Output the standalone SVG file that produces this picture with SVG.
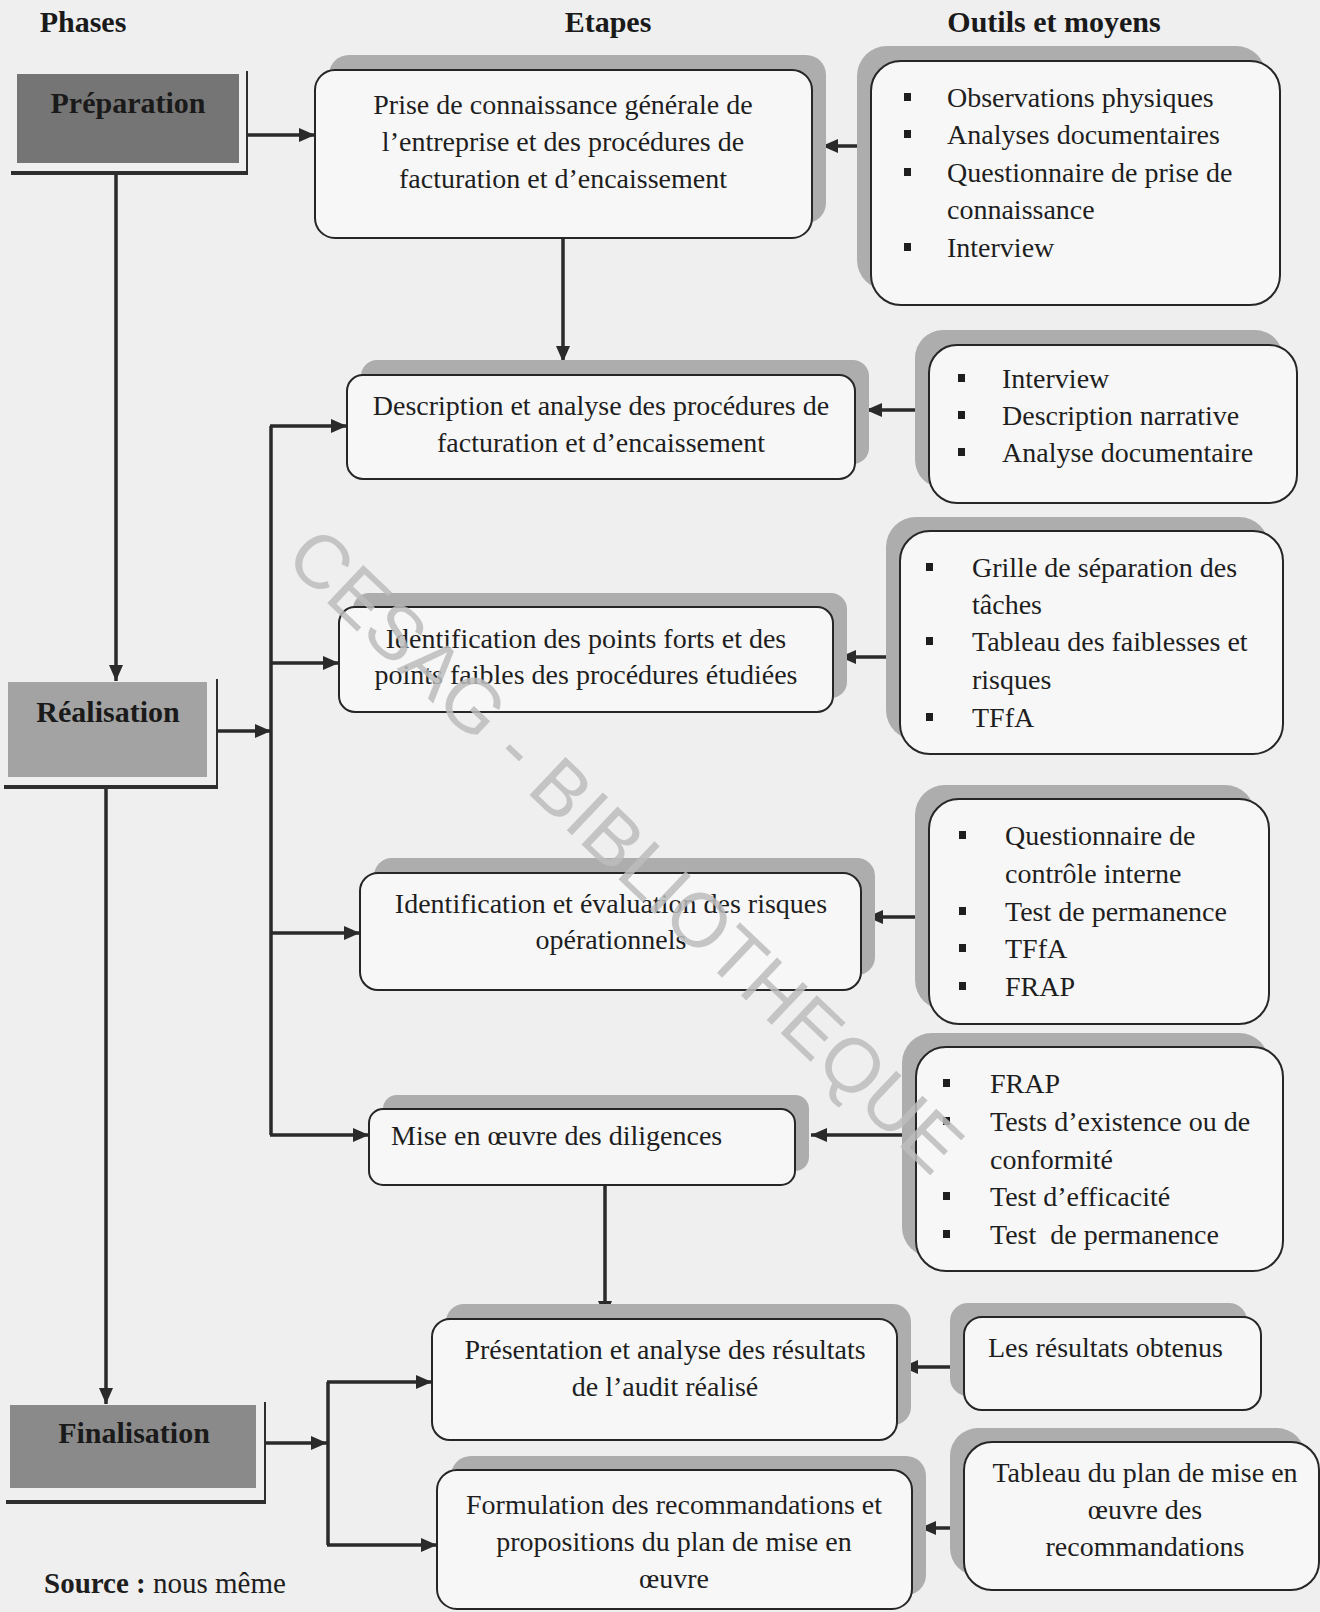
<svg xmlns="http://www.w3.org/2000/svg" width="1320" height="1612" viewBox="0 0 1320 1612">
<defs>
<style>
.t{font-family:"Liberation Serif","Times New Roman",serif;font-size:28px;fill:#1e1e1e}
.c{text-anchor:middle}
.h{font-family:"Liberation Serif","Times New Roman",serif;font-size:30px;font-weight:bold;fill:#1a1a1a;text-anchor:middle}
.box{fill:#f7f7f7;stroke:#262626;stroke-width:2}
.sh{fill:#adadad}
.conn{stroke:#2a2a2a;stroke-width:3.5;fill:none}
.frame{stroke:#2e2e2e;fill:none}
.bul{fill:#1e1e1e}
.wm{font-family:"Liberation Sans",Arial,sans-serif;font-size:76px;fill:#bcbcbc;fill-opacity:0.85;text-anchor:middle}
</style>
<marker id="ah" markerUnits="userSpaceOnUse" markerWidth="16" markerHeight="14" refX="16" refY="7" orient="auto">
<path d="M0,0 L16,7 L0,14 Z" fill="#2a2a2a"/>
</marker>
</defs>
<rect x="0" y="0" width="1320" height="1612" fill="#efefef"/>

<g id="headers">
<text class="h" x="83" y="32">Phases</text>
<text class="h" x="608" y="32">Etapes</text>
<text class="h" x="1054" y="32">Outils et moyens</text>
</g>

<g id="phase-preparation">
<rect x="17" y="74" width="222" height="89" fill="#757575"/>
<line class="frame" x1="247" y1="71" x2="247" y2="175" stroke-width="2"/>
<line class="frame" x1="11" y1="173" x2="248" y2="173" stroke-width="4"/>
<text class="h" x="128" y="113">Préparation</text>
</g>
<g id="phase-realisation">
<rect x="8" y="682" width="199" height="95" fill="#a3a3a3"/>
<line class="frame" x1="217" y1="679" x2="217" y2="789" stroke-width="2"/>
<line class="frame" x1="4" y1="787" x2="218" y2="787" stroke-width="4"/>
<text class="h" x="108" y="722">Réalisation</text>
</g>
<g id="phase-finalisation">
<rect x="10" y="1405" width="246" height="83" fill="#8a8a8a"/>
<line class="frame" x1="265" y1="1402" x2="265" y2="1504" stroke-width="2"/>
<line class="frame" x1="6" y1="1502" x2="266" y2="1502" stroke-width="4"/>
<text class="h" x="134" y="1443">Finalisation</text>
</g>

<g id="connectors">
<path class="conn" d="M247,135 H315" marker-end="url(#ah)"/>
<path class="conn" d="M116,175 V681" marker-end="url(#ah)"/>
<path class="conn" d="M106,789 V1404" marker-end="url(#ah)"/>
<path class="conn" d="M218,731 H271" marker-end="url(#ah)"/>
<path class="conn" d="M271,426 V1135"/>
<path class="conn" d="M270,426 H347" marker-end="url(#ah)"/>
<path class="conn" d="M270,663 H339" marker-end="url(#ah)"/>
<path class="conn" d="M270,933 H360" marker-end="url(#ah)"/>
<path class="conn" d="M270,1135 H369" marker-end="url(#ah)"/>
<path class="conn" d="M563,238 V362" marker-end="url(#ah)"/>
<path class="conn" d="M605,1185 V1317" marker-end="url(#ah)"/>
<path class="conn" d="M266,1443 H327" marker-end="url(#ah)"/>
<path class="conn" d="M328,1382 V1545"/>
<path class="conn" d="M327,1382 H432" marker-end="url(#ah)"/>
<path class="conn" d="M327,1545 H437" marker-end="url(#ah)"/>
<path class="conn" d="M862,146 H822" marker-end="url(#ah)"/>
<path class="conn" d="M918,410 H866" marker-end="url(#ah)"/>
<path class="conn" d="M888,657 H840" marker-end="url(#ah)"/>
<path class="conn" d="M918,917 H867" marker-end="url(#ah)"/>
<path class="conn" d="M905,1135 H811" marker-end="url(#ah)"/>
<path class="conn" d="M953,1367 H902" marker-end="url(#ah)"/>
<path class="conn" d="M953,1528 H920" marker-end="url(#ah)"/>
</g>

<g id="etape-1">
<rect class="sh" x="329" y="55" width="497" height="168" rx="20"/>
<rect class="box" x="315" y="70" width="497" height="168" rx="20"/>
<text class="t c" x="563" y="114">Prise de connaissance générale de</text>
<text class="t c" x="563" y="151">l’entreprise et des procédures de</text>
<text class="t c" x="563" y="188">facturation et d’encaissement</text>
</g>
<g id="etape-2">
<rect class="sh" x="361" y="360" width="508" height="104" rx="16"/>
<rect class="box" x="347" y="375" width="508" height="104" rx="16"/>
<text class="t c" x="601" y="415">Description et analyse des procédures de</text>
<text class="t c" x="601" y="452">facturation et d’encaissement</text>
</g>
<g id="etape-3">
<rect class="sh" x="353" y="593" width="494" height="105" rx="16"/>
<rect class="box" x="339" y="607" width="494" height="105" rx="16"/>
<text class="t c" x="586" y="648">Identification des points forts et des</text>
<text class="t c" x="586" y="684">points faibles des procédures étudiées</text>
</g>
<g id="etape-4">
<rect class="sh" x="374" y="858" width="501" height="117" rx="18"/>
<rect class="box" x="360" y="873" width="501" height="117" rx="18"/>
<text class="t c" x="611" y="913">Identification et évaluation des risques</text>
<text class="t c" x="611" y="949">opérationnels</text>
</g>
<g id="etape-5">
<rect class="sh" x="383" y="1095" width="426" height="76" rx="14"/>
<rect class="box" x="369" y="1109" width="426" height="76" rx="14"/>
<text class="t" x="391" y="1145">Mise en œuvre des diligences</text>
</g>
<g id="etape-6">
<rect class="sh" x="446" y="1304" width="465" height="121" rx="18"/>
<rect class="box" x="432" y="1319" width="465" height="121" rx="18"/>
<text class="t c" x="665" y="1359">Présentation et analyse des résultats</text>
<text class="t c" x="665" y="1396">de l’audit réalisé</text>
</g>
<g id="etape-7">
<rect class="sh" x="451" y="1456" width="475" height="139" rx="20"/>
<rect class="box" x="437" y="1470" width="475" height="139" rx="20"/>
<text class="t c" x="674" y="1514">Formulation des recommandations et</text>
<text class="t c" x="674" y="1551">propositions du plan de mise en</text>
<text class="t c" x="674" y="1588">œuvre</text>
</g>

<g id="outils-1">
<rect class="sh" x="857" y="46" width="409" height="244" rx="30"/>
<rect class="box" x="871" y="61" width="409" height="244" rx="30"/>
<rect class="bul" x="904" y="93" width="7" height="8"/>
<rect class="bul" x="904" y="130" width="7" height="8"/>
<rect class="bul" x="904" y="168" width="7" height="8"/>
<rect class="bul" x="904" y="243" width="7" height="8"/>
<text class="t" x="947" y="107">Observations physiques</text>
<text class="t" x="947" y="144">Analyses documentaires</text>
<text class="t" x="947" y="182">Questionnaire de prise de</text>
<text class="t" x="947" y="219">connaissance</text>
<text class="t" x="947" y="257">Interview</text>
</g>
<g id="outils-2">
<rect class="sh" x="915" y="330" width="368" height="158" rx="28"/>
<rect class="box" x="929" y="345" width="368" height="158" rx="28"/>
<rect class="bul" x="958" y="374" width="7" height="8"/>
<rect class="bul" x="958" y="411" width="7" height="8"/>
<rect class="bul" x="958" y="448" width="7" height="8"/>
<text class="t" x="1002" y="388">Interview</text>
<text class="t" x="1002" y="425">Description narrative</text>
<text class="t" x="1002" y="462">Analyse documentaire</text>
</g>
<g id="outils-3">
<rect class="sh" x="886" y="517" width="383" height="223" rx="30"/>
<rect class="box" x="900" y="531" width="383" height="223" rx="30"/>
<rect class="bul" x="926" y="563" width="7" height="8"/>
<rect class="bul" x="926" y="637" width="7" height="8"/>
<rect class="bul" x="926" y="713" width="7" height="8"/>
<text class="t" x="972" y="577">Grille de séparation des</text>
<text class="t" x="972" y="614">tâches</text>
<text class="t" x="972" y="651">Tableau des faiblesses et</text>
<text class="t" x="972" y="689">risques</text>
<text class="t" x="972" y="727">TFfA</text>
</g>
<g id="outils-4">
<rect class="sh" x="915" y="785" width="340" height="225" rx="30"/>
<rect class="box" x="929" y="799" width="340" height="225" rx="30"/>
<rect class="bul" x="959" y="831" width="7" height="8"/>
<rect class="bul" x="959" y="907" width="7" height="8"/>
<rect class="bul" x="959" y="944" width="7" height="8"/>
<rect class="bul" x="959" y="982" width="7" height="8"/>
<text class="t" x="1005" y="845">Questionnaire de</text>
<text class="t" x="1005" y="883">contrôle interne</text>
<text class="t" x="1005" y="921">Test de permanence</text>
<text class="t" x="1005" y="958">TFfA</text>
<text class="t" x="1005" y="996">FRAP</text>
</g>
<g id="outils-5">
<rect class="sh" x="902" y="1033" width="367" height="224" rx="30"/>
<rect class="box" x="916" y="1047" width="367" height="224" rx="30"/>
<rect class="bul" x="943" y="1079" width="7" height="8"/>
<rect class="bul" x="943" y="1117" width="7" height="8"/>
<rect class="bul" x="943" y="1192" width="7" height="8"/>
<rect class="bul" x="943" y="1230" width="7" height="8"/>
<text class="t" x="990" y="1093">FRAP</text>
<text class="t" x="990" y="1131">Tests d’existence ou de</text>
<text class="t" x="990" y="1169">conformité</text>
<text class="t" x="990" y="1206">Test d’efficacité</text>
<text class="t" x="990" y="1244">Test&#160; de permanence</text>
</g>
<g id="outils-6">
<rect class="sh" x="950" y="1303" width="297" height="93" rx="18"/>
<rect class="box" x="964" y="1317" width="297" height="93" rx="18"/>
<text class="t" x="988" y="1357">Les résultats obtenus</text>
</g>
<g id="outils-7">
<rect class="sh" x="950" y="1428" width="355" height="148" rx="28"/>
<rect class="box" x="964" y="1442" width="355" height="148" rx="28"/>
<text class="t c" x="1145" y="1482">Tableau du plan de mise en</text>
<text class="t c" x="1145" y="1519">œuvre des</text>
<text class="t c" x="1145" y="1556">recommandations</text>
</g>

<g id="source">
<text class="t" x="44" y="1593" style="font-size:29px"><tspan font-weight="bold">Source :</tspan> nous même</text>
</g>

<g id="watermark">
<text class="wm" x="626" y="850" dominant-baseline="central" transform="rotate(43.5 626 850)">CESAG - BIBLIOTHEQUE</text>
</g>
</svg>
